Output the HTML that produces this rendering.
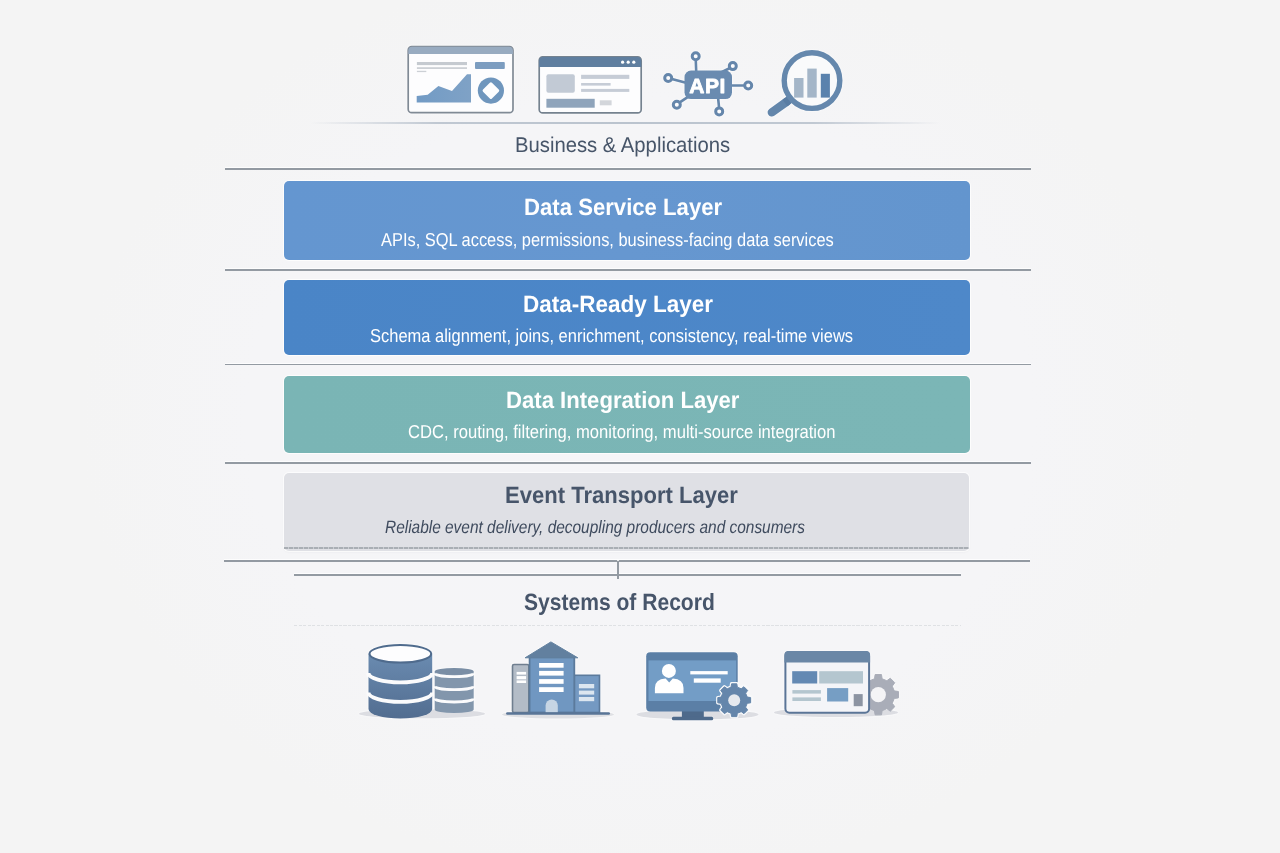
<!DOCTYPE html>
<html>
<head>
<meta charset="utf-8">
<style>
html,body{margin:0;padding:0;}
body{width:1280px;height:853px;overflow:hidden;position:relative;
  background:radial-gradient(ellipse 560px 460px at 640px 420px,#f5f5f8 0%,#f5f5f7 70%,#f4f4f4 100%);
  font-family:"Liberation Sans",sans-serif;}
.t{position:absolute;white-space:nowrap;line-height:1;transform-origin:0 0;text-rendering:geometricPrecision;}
.box{position:absolute;left:284px;width:686px;border-radius:5px;box-shadow:0 0 0 1px rgba(255,255,255,.75);}
.hl{position:absolute;height:1.7px;background:#939aa2;box-shadow:0 -1px 0 rgba(255,255,255,.8);}
svg{position:absolute;left:0;top:0;}
.bl{display:inline-block;width:0;height:0;vertical-align:baseline;}
</style>
</head>
<body>
<!-- lines -->
<div style="position:absolute;left:310px;top:122px;width:630px;height:2px;background:linear-gradient(90deg,rgba(185,194,205,0),#c0c8d2 20%,#bac3ce 50%,#c0c8d2 80%,rgba(185,194,205,0));filter:blur(0.4px);"></div>
<div class="hl" style="left:225px;top:168.3px;width:806px;"></div>
<div class="hl" style="left:225px;top:269.3px;width:806px;"></div>
<div class="hl" style="left:225px;top:363.5px;width:806px;"></div>
<div class="hl" style="left:225px;top:462px;width:806px;"></div>
<div class="hl" style="left:224px;top:560px;width:806px;"></div>
<div class="hl" style="left:294px;top:574px;width:667px;"></div>
<div class="hl" style="left:617px;top:561px;width:2px;height:18px;"></div>

<!-- boxes -->
<div class="box" style="top:181px;height:79px;background:linear-gradient(90deg,#6496d0,#6697d0 50%,#6395ce);"></div>
<div class="box" style="top:280px;height:75px;background:linear-gradient(90deg,#4a85c7,#4e88c9);"></div>
<div class="box" style="top:375.8px;height:77px;background:linear-gradient(90deg,#7ab5b5,#7bb6b6);"></div>
<div class="box" style="top:473px;height:78px;width:685px;background:#dfe0e5;box-shadow:0 0 0 1px rgba(255,255,255,.75),0 1px 2px rgba(120,125,135,.12);"></div>
<div style="position:absolute;left:284px;top:547px;width:685px;height:2px;background:repeating-linear-gradient(90deg,#a9aeb4 0,#a9aeb4 4px,#c9ccd1 4px,#c9ccd1 5px);"></div>
<div style="position:absolute;left:294px;top:625px;width:667px;height:1px;background:repeating-linear-gradient(90deg,#dfe1e4 0,#dfe1e4 3px,transparent 3px,transparent 4.5px);"></div>

<!-- texts -->
<div class="t" style="top:134.81px;left:515.00px;font-size:21.30px;font-weight:normal;font-style:normal;color:#475569;transform:scaleX(0.9511);">Business &amp; Applications<span class="bl"></span></div>
<div class="t" style="top:195.61px;left:523.50px;font-size:23.50px;font-weight:bold;font-style:normal;color:#fff;transform:scaleX(0.9422);">Data Service Layer<span class="bl"></span></div>
<div class="t" style="top:230.71px;left:380.50px;font-size:18.60px;font-weight:normal;font-style:normal;color:#fff;transform:scaleX(0.8827);">APIs, SQL access, permissions, business-facing data services<span class="bl"></span></div>
<div class="t" style="top:293.00px;left:522.50px;font-size:23.50px;font-weight:bold;font-style:normal;color:#fff;transform:scaleX(0.9571);">Data-Ready Layer<span class="bl"></span></div>
<div class="t" style="top:326.60px;left:369.75px;font-size:18.60px;font-weight:normal;font-style:normal;color:#fff;transform:scaleX(0.8858);">Schema alignment, joins, enrichment, consistency, real-time views<span class="bl"></span></div>
<div class="t" style="top:389.00px;left:506.00px;font-size:23.50px;font-weight:bold;font-style:normal;color:#fff;transform:scaleX(0.9409);">Data Integration Layer<span class="bl"></span></div>
<div class="t" style="top:422.81px;left:408.00px;font-size:18.60px;font-weight:normal;font-style:normal;color:#fff;transform:scaleX(0.8934);">CDC, routing, filtering, monitoring, multi-source integration<span class="bl"></span></div>
<div class="t" style="top:483.81px;left:505.00px;font-size:23.50px;font-weight:bold;font-style:normal;color:#47556a;transform:scaleX(0.9388);">Event Transport Layer<span class="bl"></span></div>
<div class="t" style="top:519.21px;left:385.00px;font-size:17.90px;font-weight:normal;font-style:italic;color:#3f4b5e;transform:scaleX(0.8624);">Reliable event delivery, decoupling producers and consumers<span class="bl"></span></div>
<div class="t" style="top:590.90px;left:523.50px;font-size:23.50px;font-weight:bold;font-style:normal;color:#47556a;transform:scaleX(0.8961);">Systems of Record<span class="bl"></span></div>

<svg id="icons" width="1280" height="853" viewBox="0 0 1280 853" style="filter:drop-shadow(0 0 1px rgba(255,255,255,.95));">
<defs>
  <linearGradient id="dbg" x1="0" y1="0" x2="0" y2="1">
    <stop offset="0" stop-color="#6a8bb0"/><stop offset="1" stop-color="#526d90"/>
  </linearGradient>
  <linearGradient id="chartg" x1="0" y1="0" x2="1" y2="0">
    <stop offset="0" stop-color="#729bc5"/><stop offset="1" stop-color="#7fa2c6"/>
  </linearGradient>
</defs>
<!-- Icon 1: dashboard window -->
<g>
  <rect x="408.2" y="46.7" width="104.8" height="66" rx="3.5" fill="#fdfdfe" stroke="#808a95" stroke-width="1.7"/>
  <path d="M408.3 54.1 V50.8 a4 4 0 0 1 4 -4 H508.9 a4 4 0 0 1 4 4 V54.1 Z" fill="#98abc0"/>
  <rect x="416.9" y="62" width="50.1" height="3.1" fill="#c5cad0"/>
  <rect x="416.9" y="67.2" width="50.1" height="1.8" fill="#ccd0d5"/>
  <rect x="416.9" y="70.8" width="9.4" height="1.3" fill="#ccd0d5"/>
  <rect x="475" y="62" width="29.8" height="6.9" rx="1" fill="#7c9dc0"/>
  <path d="M416.7 96.1 L427.7 94.8 L438.4 86.1 L452 91.1 L467 74.2 L471 74.2 L471 102.6 L416.7 102.6 Z" fill="url(#chartg)"/>
  <circle cx="490.9" cy="90.6" r="13.1" fill="#6f96bd"/>
  <path d="M490.9 83.8 L497.7 90.6 L490.9 97.4 L484.1 90.6 Z" fill="#fdfdfe" stroke="#fdfdfe" stroke-width="3" stroke-linejoin="round"/>
</g>
<!-- Icon 2: browser window -->
<g>
  <rect x="539.2" y="56.9" width="102" height="56" rx="3.5" fill="#fdfdfe" stroke="#75828f" stroke-width="1.7"/>
  <path d="M539.2 66.9 V60.9 a4 4 0 0 1 4 -4 H637.2 a4 4 0 0 1 4 4 V66.9 Z" fill="#5f7e9f"/>
  <circle cx="622.6" cy="62.2" r="1.6" fill="#fff"/>
  <circle cx="628.2" cy="62.2" r="1.6" fill="#fff"/>
  <circle cx="633.8" cy="62.2" r="1.6" fill="#fff"/>
  <rect x="546.4" y="74.2" width="28.4" height="18.5" rx="2" fill="#c2cad5"/>
  <rect x="581.1" y="74.8" width="48.2" height="4.1" fill="#c6ccd6"/>
  <rect x="581.1" y="83" width="29.5" height="2.6" fill="#c6ccd6"/>
  <rect x="581.1" y="88.9" width="48.2" height="3" fill="#c6ccd6"/>
  <rect x="546.4" y="98.8" width="48.3" height="8.9" fill="#8fa4bb"/>
  <rect x="599.8" y="100.3" width="11.8" height="5" fill="#d3d6db"/>
</g>
<!-- Icon 3: API -->
<g stroke="#6586ab" stroke-width="2.6" fill="none" stroke-linecap="round">
  <line x1="695.8" y1="61" x2="696.2" y2="71"/>
  <line x1="729" y1="68.5" x2="721" y2="72.5"/>
  <line x1="672.8" y1="79.3" x2="685" y2="82.5"/>
  <line x1="731" y1="85.5" x2="743.5" y2="85.5"/>
  <line x1="680.5" y1="101.8" x2="688" y2="96.8"/>
  <line x1="718.2" y1="99" x2="719" y2="106.8"/>
</g>
<g fill="#fcfcfd" stroke="#6586ab" stroke-width="3">
  <circle cx="695.7" cy="56.3" r="3.5"/>
  <circle cx="732.8" cy="66.1" r="3.5"/>
  <circle cx="668.2" cy="78" r="3.5"/>
  <circle cx="748.2" cy="85.5" r="3.5"/>
  <circle cx="676.8" cy="104.8" r="3.5"/>
  <circle cx="719.2" cy="111.4" r="3.5"/>
</g>
<rect x="684.5" y="70.5" width="47.5" height="28.6" rx="6.5" fill="#6a8bb0"/>
<text x="689.2" y="92.8" font-family="Liberation Sans" font-weight="bold" font-size="21" letter-spacing="0.6" fill="#fff" stroke="#fff" stroke-width="0.8" stroke-linejoin="round">API</text>
<!-- Icon 4: magnifier -->
<g>
  <line x1="787" y1="101.5" x2="771.8" y2="112.3" stroke="#6386ab" stroke-width="8.4" stroke-linecap="round"/>
  <line x1="791.5" y1="98" x2="785" y2="103" stroke="#5a7da3" stroke-width="8"/>
  <circle cx="812" cy="80.6" r="27.8" fill="#f9fafb" stroke="#6588ad" stroke-width="5.4"/>
  <rect x="794.1" y="78" width="9.4" height="19.6" fill="#a4b6c8"/>
  <rect x="807.3" y="68.6" width="9.4" height="29" fill="#a4b6c8"/>
  <rect x="820.8" y="73.8" width="9.1" height="23.8" fill="#5a82ad"/>
</g>

<!-- bottom icon shadows -->
<ellipse cx="422" cy="713.8" rx="63" ry="4.5" fill="#dcdde2"/>
<ellipse cx="558" cy="714.5" rx="56" ry="4" fill="#dfe0e4"/>
<ellipse cx="697.5" cy="714.5" rx="61" ry="5" fill="#dcdde2"/>
<ellipse cx="836" cy="712.5" rx="62" ry="4.5" fill="#dcdde2"/>

<!-- Icon B1: databases -->
<g>
  <path d="M368.5 653.8 V709 A31.85 9.5 0 0 0 432.2 709 V653.8 Z" fill="url(#dbg)"/>
  <ellipse cx="400.35" cy="653.8" rx="30.85" ry="8.7" fill="#fdfdfe" stroke="#4f6b8d" stroke-width="2"/>
  <path d="M368.5 673 A31.85 9.3 0 0 0 432.2 673" fill="none" stroke="#fbfbfc" stroke-width="3.8"/>
  <path d="M368.5 692.5 A31.85 9.3 0 0 0 432.2 692.5" fill="none" stroke="#fbfbfc" stroke-width="3.8"/>
</g>
<g>
  <path d="M434.7 671.5 V709.5 A19.5 3.6 0 0 0 473.7 709.5 V671.5 Z" fill="#8296ac"/>
  <ellipse cx="454.2" cy="671.3" rx="19.5" ry="3.4" fill="#7a8ea5"/>
  <path d="M434.7 673.3 A19.5 3.4 0 0 0 473.7 673.3" fill="none" stroke="#fbfbfc" stroke-width="2.8"/>
  <path d="M434.7 686.2 A19.5 3.4 0 0 0 473.7 686.2" fill="none" stroke="#fbfbfc" stroke-width="2.8"/>
  <path d="M434.7 698.6 A19.5 3.4 0 0 0 473.7 698.6" fill="none" stroke="#fbfbfc" stroke-width="2.8"/>
</g>

<!-- Icon B2: buildings -->
<g>
  <rect x="512.5" y="664.5" width="16.3" height="48" rx="1.5" fill="#b3bcc7" stroke="#6f7e8f" stroke-width="1.6"/>
  <rect x="516.6" y="671.9" width="9.5" height="2.7" fill="#fff"/>
  <rect x="516.6" y="676.1" width="9.5" height="3.2" fill="#fff"/>
  <rect x="516.6" y="680.4" width="9.5" height="2.6" fill="#fff"/>
  <rect x="574.3" y="675.3" width="25.2" height="37.2" fill="#7499c2" stroke="#5b7a9c" stroke-width="1.6"/>
  <rect x="578.9" y="684" width="15.3" height="4.3" fill="#dce6f0"/>
  <rect x="578.9" y="690.6" width="15.3" height="4" fill="#dce6f0"/>
  <rect x="578.9" y="697" width="15.3" height="4.2" fill="#dce6f0"/>
  <rect x="529.6" y="657.2" width="44.7" height="55.3" fill="#7097c1" stroke="#5b7a9c" stroke-width="1.8"/>
  <path d="M525.1 657.8 L550.9 641.9 L577.8 657.8 Z" fill="#62809f" stroke="#62809f" stroke-width="1" stroke-linejoin="round"/>
  <rect x="539.1" y="663" width="24.5" height="4.7" fill="#fff"/>
  <rect x="539.1" y="670.9" width="24.5" height="4.7" fill="#fff"/>
  <rect x="539.1" y="679.1" width="24.5" height="4.7" fill="#fff"/>
  <rect x="539.1" y="687.2" width="24.5" height="4.8" fill="#fff"/>
  <path d="M545.6 712.5 V705.5 A6.1 6 0 0 1 557.8 705.5 V712.5 Z" fill="#c6d5e4"/>
  <rect x="506.1" y="712.3" width="103.9" height="2.5" rx="1.2" fill="#5a7597"/>
</g>

<!-- Icon B3: monitor with person and gear -->
<g>
  <rect x="681.9" y="711" width="21.9" height="6.5" fill="#4e6a8b"/>
  <rect x="671.9" y="716.8" width="41.3" height="3.4" rx="1.5" fill="#4e6a8b"/>
  <rect x="646.2" y="652.2" width="91.5" height="59.4" rx="4" fill="#5b7fa6"/>
  <rect x="648.5" y="660.4" width="87.7" height="40.6" fill="#739dc6"/>
  <circle cx="668.9" cy="670.9" r="7" fill="#fff"/>
  <path d="M654.9 693.2 V688 Q654.9 679 665.6 678.5 L669.2 682.4 L672.8 678.5 Q683.5 679 683.5 688 V693.2 Z" fill="#fff"/>
  <rect x="690.3" y="671.1" width="37.4" height="3.3" fill="#fff"/>
  <rect x="693.8" y="678.4" width="26.9" height="4.3" fill="#fff"/>
</g>
<g id="gear1" transform="translate(734.2 700.2)">
  <path d="M-3.13 -13.03 L-2.60 -16.40 L2.60 -16.40 L3.13 -13.03 L7.00 -11.43 L9.76 -13.43 L13.43 -9.76 L11.43 -7.00 L13.03 -3.13 L16.40 -2.60 L16.40 2.60 L13.03 3.13 L11.43 7.00 L13.43 9.76 L9.76 13.43 L7.00 11.43 L3.13 13.03 L2.60 16.40 L-2.60 16.40 L-3.13 13.03 L-7.00 11.43 L-9.76 13.43 L-13.43 9.76 L-11.43 7.00 L-13.03 3.13 L-16.40 2.60 L-16.40 -2.60 L-13.03 -3.13 L-11.43 -7.00 L-13.43 -9.76 L-9.76 -13.43 L-7.00 -11.43 Z" fill="#f7f8fa" stroke="#f7f8fa" stroke-width="3.4" stroke-linejoin="round"/>
  <path id="gearpath" d="M-3.13 -13.03 L-2.60 -16.40 L2.60 -16.40 L3.13 -13.03 L7.00 -11.43 L9.76 -13.43 L13.43 -9.76 L11.43 -7.00 L13.03 -3.13 L16.40 -2.60 L16.40 2.60 L13.03 3.13 L11.43 7.00 L13.43 9.76 L9.76 13.43 L7.00 11.43 L3.13 13.03 L2.60 16.40 L-2.60 16.40 L-3.13 13.03 L-7.00 11.43 L-9.76 13.43 L-13.43 9.76 L-11.43 7.00 L-13.03 3.13 L-16.40 2.60 L-16.40 -2.60 L-13.03 -3.13 L-11.43 -7.00 L-13.43 -9.76 L-9.76 -13.43 L-7.00 -11.43 Z" fill="#6586ab" stroke="#6586ab" stroke-width="1" stroke-linejoin="round"/>
  <circle r="6" fill="#e6e9ee"/>
</g>

<!-- Icon B4: window with gear -->
<g transform="translate(878.3 694.7)">
  <path id="gearpath2" d="M-3.83 -15.95 L-3.19 -20.15 L3.19 -20.15 L3.83 -15.95 L8.57 -13.98 L11.99 -16.50 L16.50 -11.99 L13.98 -8.57 L15.95 -3.83 L20.15 -3.19 L20.15 3.19 L15.95 3.83 L13.98 8.57 L16.50 11.99 L11.99 16.50 L8.57 13.98 L3.83 15.95 L3.19 20.15 L-3.19 20.15 L-3.83 15.95 L-8.57 13.98 L-11.99 16.50 L-16.50 11.99 L-13.98 8.57 L-15.95 3.83 L-20.15 3.19 L-20.15 -3.19 L-15.95 -3.83 L-13.98 -8.57 L-16.50 -11.99 L-11.99 -16.50 L-8.57 -13.98 Z" fill="#a9adb8" stroke="#a9adb8" stroke-width="1" stroke-linejoin="round"/>
  <circle r="7.6" fill="#f4f4f6"/>
</g>
<g>
  <rect x="785.4" y="651.9" width="83.7" height="60.9" rx="4" fill="#f4f5f8" stroke="#5b7597" stroke-width="2"/>
  <path d="M784.4 662.4 V654.9 a4 4 0 0 1 4 -4 H866.1 a4 4 0 0 1 4 4 V662.4 Z" fill="#6a87a6"/>
  <rect x="792.2" y="671.2" width="25" height="12.3" fill="#6389b3"/>
  <rect x="819.2" y="671.2" width="43.8" height="12.3" fill="#b4c6cf"/>
  <rect x="792.4" y="690.1" width="28.5" height="3.5" fill="#b4c6cf"/>
  <rect x="792.4" y="697.4" width="28.5" height="3.6" fill="#b4c6cf"/>
  <rect x="827.1" y="688.1" width="21.1" height="13.4" fill="#769ec4"/>
  <rect x="853.7" y="694.1" width="9" height="12.1" fill="#8c94a2"/>
</g>

</svg>
</body>
</html>
